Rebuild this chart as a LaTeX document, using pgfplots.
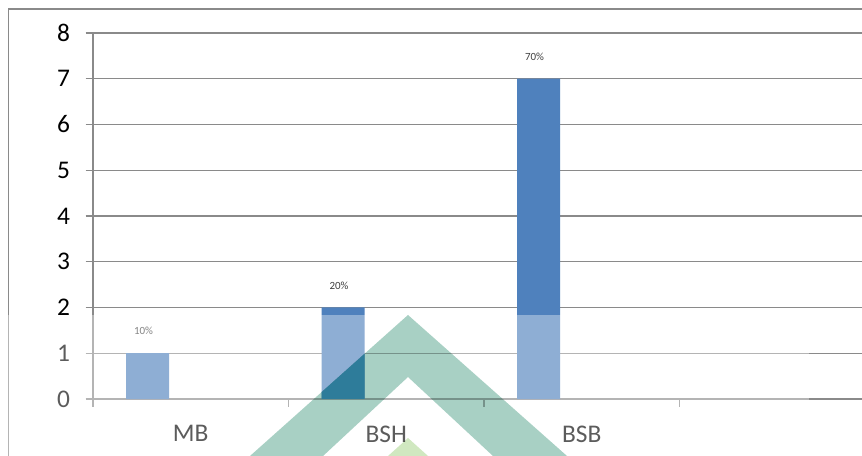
\documentclass[border=0pt]{standalone}
\usepackage{fontspec}
\setmainfont{Carlito}
\usepackage{pgfplots}
\usepackage{pgfplotstable}
\pgfplotsset{compat=1.18}
\definecolor{gridgray}{RGB}{138,138,138}
\definecolor{barblue}{RGB}{79,129,189}
\definecolor{teal}{RGB}{168,208,196}
\definecolor{darkteal}{RGB}{46,124,154}
\definecolor{lgreen}{RGB}{208,232,192}
\definecolor{lblgray}{RGB}{64,64,64}
\pgfplotstableread{
x y lab
0.5 1 10\%
1.5 2 20\%
2.5 7 70\%
}\datatable
\begin{document}
\begin{tikzpicture}
\useasboundingbox (0,0) rectangle (862bp,456bp);
\clip (0,0) rectangle (862bp,456bp);
\fill[white] (0,0) rectangle (862bp,456bp);
\draw[gridgray, line width=1.3bp] (8.5bp,-20bp) rectangle (900bp,447bp);
\begin{axis}[
  at={(93bp,57bp)}, anchor=origin,
  scale only axis, width=782bp, height=366bp,
  xmin=0, xmax=4, ymin=0, ymax=8,
  axis lines*=left,
  axis line style={gridgray, line width=1.3bp},
  ytick={0,1,...,8},
  ymajorgrids,
  grid style={gridgray, line width=1.3bp},
  tick style={gridgray, line width=1.3bp},
  tick align=outside,
  major tick length=7.5bp,
  xtick={0,1,2,3},
  xticklabels={},
  extra x ticks={0.5,1.5,2.5},
  extra x tick labels={MB,BSH,BSB},
  extra x tick style={major tick length=0pt, xmajorgrids=false,
    xticklabel style={yshift=-23bp}},
  yticklabel style={xshift=-12bp},
  /pgf/number format/assume math mode=true,
  tick label style={font=\fontsize{25.5}{25.5}\selectfont, text=black},
  ybar, bar width=43bp, bar shift=-43.25bp,
  point meta=explicit symbolic,
  nodes near coords={\pgfplotspointmeta},
  nodes near coords style={font=\fontsize{11}{11}\selectfont, text=lblgray, anchor=center, yshift=22bp, xshift=-4bp},
  clip=false,
]
\addplot[fill=barblue, draw=none] table[x=x, y=y, meta=lab] {\datatable};
\end{axis}
\fill[white, fill opacity=0.36] (-5bp,-5bp) rectangle (809bp,141bp);
\begin{scope}[blend mode=multiply]
\fill[teal] (250bp,0) -- (408bp,141bp) -- (567bp,0) -- (493bp,0) -- (408bp,79bp) -- (323bp,0) -- cycle;
\fill[lgreen] (388bp,0) -- (408bp,18bp) -- (428bp,0) -- cycle;
\end{scope}
\begin{scope}
\clip (321.5bp,57bp) rectangle (364.5bp,141bp);
\fill[darkteal] (250bp,0) -- (408bp,141bp) -- (567bp,0) -- (493bp,0) -- (408bp,79bp) -- (323bp,0) -- cycle;
\end{scope}
\end{tikzpicture}
\end{document}
